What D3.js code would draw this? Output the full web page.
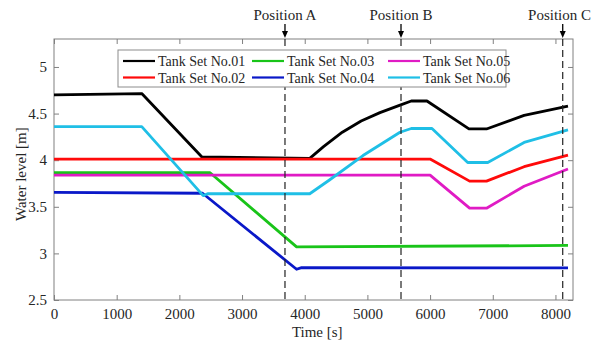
<!DOCTYPE html>
<html>
<head>
<meta charset="utf-8">
<script src="https://cdn.jsdelivr.net/npm/d3@7"></script>
<style>
  body { margin: 0; background: #fff; }
  svg text { font-family: "Liberation Serif", Tinos, "DejaVu Serif", serif !important; fill: #262626; }
</style>
</head>
<body>
<div id="viz"></div>
<script>
// series names and colours
const names = ['Tank Set No.01', 'Tank Set No.02', 'Tank Set No.03', 'Tank Set No.04', 'Tank Set No.05', 'Tank Set No.06'];
const colors = ['#000000', '#ff0a0a', '#19c419', '#0a18c8', '#e01bc4', '#1fbfe6'];

// breakpoints (time in s, level in m)
const t01 = [0, 1400, 2360, 4080, 4300, 4600, 4900, 5200, 5500, 5700, 5950, 6620, 6900, 7500, 8200];
const v01 = [4.70, 4.715, 4.035, 4.02, 4.145, 4.30, 4.42, 4.51, 4.585, 4.635, 4.635, 4.335, 4.335, 4.48, 4.58];
const t02 = [0, 6000, 6630, 6900, 7500, 8200];
const v02 = [4.012, 4.012, 3.775, 3.775, 3.93, 4.055];
const t03 = [0, 2490, 3870, 8200];
const v03 = [3.865, 3.865, 3.07, 3.085];
const t04 = [0, 2370, 3870, 3950, 8200];
const v04 = [3.655, 3.645, 2.83, 2.848, 2.845];
const t05 = [0, 6000, 6630, 6900, 7500, 8200];
const v05 = [3.84, 3.84, 3.485, 3.485, 3.72, 3.905];
const t06 = [0, 1400, 2380, 2450, 4080, 4400, 4930, 5520, 5700, 6030, 6600, 6920, 7500, 8200];
const v06 = [4.36, 4.36, 3.62, 3.64, 3.64, 3.79, 4.05, 4.30, 4.34, 4.34, 3.975, 3.975, 4.19, 4.325];

const times = [t01, t02, t03, t04, t05, t06];
const levels = [v01, v02, v03, v04, v05, v06];

// marked positions
const posNames = ['Position A', 'Position B', 'Position C'];
const posTimes = [3685, 5536, 8116];

const xTicks = [0, 1000, 2000, 3000, 4000, 5000, 6000, 7000, 8000];
const yTicks = [2.5, 3, 3.5, 4, 4.5, 5];

const width = 592, height = 344;
const margins = { top: 39, right: 19, bottom: 44, left: 54 };
const serif = '"Liberation Serif", Tinos, "DejaVu Serif", serif';

const svg = d3.select('#viz').append('svg')
    .attr('width', width)
    .attr('height', height)
    .attr('font-family', serif);

const xScale = d3.scaleLinear()
    .domain([0, 8280])
    .range([margins.left, width - margins.right]);

const yScale = d3.scaleLinear()
    .domain([2.5, 5.3])
    .range([height - margins.bottom, margins.top]);

const axisColor = '#808080';

// frame
svg.append('rect')
    .attr('x', xScale(0))
    .attr('y', yScale(5.3))
    .attr('width', xScale(8280) - xScale(0))
    .attr('height', yScale(2.5) - yScale(5.3))
    .attr('fill', 'none')
    .attr('stroke', axisColor)
    .attr('stroke-width', 1);

// axes with inward ticks, mirrored on top and right
const styleAxis = g => {
    g.attr('font-family', serif).attr('font-size', 15);
    g.select('.domain').remove();
    g.selectAll('.tick line').attr('stroke', axisColor);
    g.selectAll('.tick text').attr('fill', '#262626');
};

svg.append('g')
    .attr('transform', `translate(0,${yScale(2.5)})`)
    .call(d3.axisBottom(xScale).tickValues(xTicks).tickSizeInner(-5).tickSizeOuter(0).tickPadding(8).tickFormat(d3.format('d')))
    .call(styleAxis);

svg.append('g')
    .attr('transform', `translate(0,${yScale(5.3)})`)
    .call(d3.axisTop(xScale).tickValues(xTicks).tickSizeInner(-5).tickSizeOuter(0).tickFormat(''))
    .call(styleAxis);

svg.append('g')
    .attr('transform', `translate(${xScale(0)},0)`)
    .call(d3.axisLeft(yScale).tickValues(yTicks).tickSizeInner(-5).tickSizeOuter(0).tickPadding(7).tickFormat(d => d))
    .call(styleAxis);

svg.append('g')
    .attr('transform', `translate(${xScale(8280)},0)`)
    .call(d3.axisRight(yScale).tickValues(yTicks).tickSizeInner(-5).tickSizeOuter(0).tickFormat(''))
    .call(styleAxis);

// axis titles
svg.append('text')
    .attr('x', xScale(4200))
    .attr('y', 337)
    .attr('text-anchor', 'middle')
    .attr('font-size', 15)
    .text('Time [s]');

svg.append('text')
    .attr('transform', `translate(26,${yScale(3.85)}) rotate(-90)`)
    .attr('text-anchor', 'middle')
    .attr('font-size', 15)
    .text('Water level [m]');

// series lines
const line = d3.line()
    .x(d => xScale(d[0]))
    .y(d => yScale(d[1]));

levels.forEach((vals, i) => {
    const pts = times[i].map((t, j) => [t, vals[j]]);
    svg.append('path')
        .datum(pts)
        .attr('fill', 'none')
        .attr('stroke', colors[i])
        .attr('stroke-width', 2.8)
        .attr('stroke-linejoin', 'round')
        .attr('d', line);
});

// dashed position lines and labels with arrows
posTimes.forEach((t, i) => {
    const x = xScale(t);
    svg.append('line')
        .attr('x1', x).attr('x2', x)
        .attr('y1', yScale(5.3)).attr('y2', yScale(2.5))
        .attr('stroke', '#222')
        .attr('stroke-width', 1.2)
        .attr('stroke-dasharray', '7,4');
    svg.append('line')
        .attr('x1', x).attr('x2', x)
        .attr('y1', 24).attr('y2', 32)
        .attr('stroke', '#000')
        .attr('stroke-width', 1.3);
    svg.append('path')
        .attr('d', `M${x - 3},31L${x + 3},31L${x},38Z`)
        .attr('fill', '#000');
    // the last label sits against the right edge
    const last = i === posTimes.length - 1;
    svg.append('text')
        .attr('x', last ? width - 1 : x)
        .attr('y', 20)
        .attr('text-anchor', last ? 'end' : 'middle')
        .attr('font-size', 15)
        .attr('fill', '#111')
        .text(posNames[i]);
});

// legend
const legend = svg.append('g');
legend.append('rect')
    .attr('x', 118).attr('y', 50)
    .attr('width', 388).attr('height', 37)
    .attr('fill', '#fff')
    .attr('stroke', '#8c8c8c')
    .attr('stroke-width', 1);

const colX = [123, 252, 388];
const rowY = [61, 77.5];
names.forEach((name, i) => {
    const cx = colX[Math.floor(i / 2)];
    const cy = rowY[i % 2];
    legend.append('line')
        .attr('x1', cx).attr('x2', cx + 32)
        .attr('y1', cy).attr('y2', cy)
        .attr('stroke', colors[i])
        .attr('stroke-width', 2.2);
    legend.append('text')
        .attr('x', cx + 35)
        .attr('y', cy + 5)
        .attr('font-size', 14)
        .attr('fill', '#111')
        .text(name);
});
</script>
</body>
</html>
